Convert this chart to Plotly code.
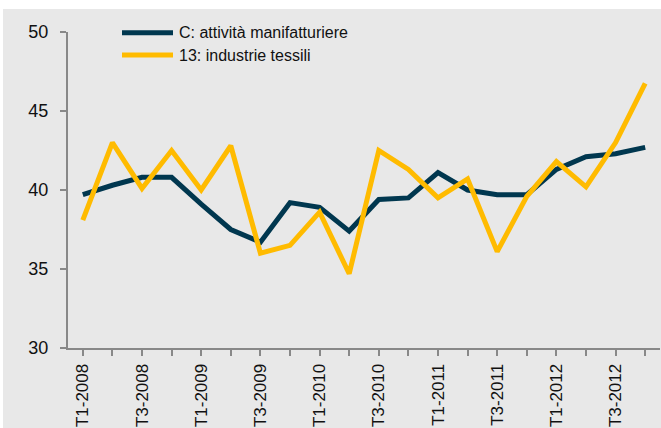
import plotly.graph_objects as go

# quarters T1-2008 .. T4-2012
quarters = [f"T{q}-{y}" for y in range(2008, 2013) for q in range(1, 5)]
tick_text = [lab if i % 2 == 0 else "" for i, lab in enumerate(quarters)]

manifatturiere = [39.7, 40.3, 40.8, 40.8, 39.1, 37.5, 36.7, 39.2, 38.9, 37.4,
                  39.4, 39.5, 41.1, 40.0, 39.7, 39.7, 41.3, 42.1, 42.3, 42.7]
tessili = [38.1, 43.0, 40.1, 42.5, 40.0, 42.8, 36.0, 36.5, 38.6, 34.7,
           42.5, 41.3, 39.5, 40.7, 36.1, 39.6, 41.8, 40.2, 43.0, 46.75]

names = ["C: attività manifatturiere", "13: industrie tessili"]
colors = ["#00374f", "#ffbb00"]

W, H = 661, 428
L, R, T, B = 68, 1, 32, 80
pw, ph = W - L - R, H - T - B


def px_x(x):
    return (x - L) / pw


def px_y(y):
    return (H - B - y) / ph


fig = go.Figure()
for name, vals, col in zip(names, [manifatturiere, tessili], colors):
    fig.add_trace(go.Scatter(x=quarters, y=vals, mode="lines", name=name,
                             line=dict(color=col, width=5), showlegend=False))

shapes = [
    # gray background panel, white strips at left / top
    dict(type="rect", xref="paper", yref="paper", layer="below",
         x0=px_x(3), x1=px_x(W + 5), y0=px_y(H + 5), y1=px_y(9),
         fillcolor="#e8e8e8", line=dict(width=0)),
]
annotations = []
# hand made legend so the line samples are long like the original
for k, (name, col) in enumerate(zip(names, colors)):
    yy = 32.7 + 22.3 * k
    shapes.append(dict(type="line", xref="paper", yref="paper",
                       x0=px_x(122), x1=px_x(173), y0=px_y(yy), y1=px_y(yy),
                       line=dict(color=col, width=5)))
    annotations.append(dict(xref="paper", yref="paper", x=px_x(177), y=px_y(yy),
                            text=name, showarrow=False, xanchor="left",
                            yanchor="middle", font=dict(size=16, color="#111")))

fig.update_layout(
    width=W, height=H,
    margin=dict(l=L, r=R, t=T, b=B, pad=0, autoexpand=False),
    paper_bgcolor="white",
    plot_bgcolor="rgba(0,0,0,0)",
    font=dict(family="Liberation Sans, Arial, sans-serif", color="#111", size=18),
    shapes=shapes,
    annotations=annotations,
    xaxis=dict(
        type="category", range=[-0.5, 19.5], automargin=False,
        tickmode="array", tickvals=quarters, ticktext=tick_text,
        tickangle=-90, ticks="outside", ticklen=6, tickwidth=1.5,
        tickcolor="#888", showline=True, linecolor="#888", linewidth=2,
        showgrid=False, zeroline=False, ticklabelstandoff=1,
        tickfont=dict(size=17),
    ),
    yaxis=dict(
        range=[30, 50], tickvals=[30, 35, 40, 45, 50], automargin=False,
        ticks="outside", ticklen=6, tickwidth=1.5, tickcolor="#888",
        showline=True, linecolor="#888", linewidth=2,
        showgrid=False, zeroline=False, ticklabelstandoff=8,
        tickfont=dict(size=18),
    ),
)

fig.write_html("out.html", config={"displayModeBar": False},
               post_script="document.body.style.margin='0';")
